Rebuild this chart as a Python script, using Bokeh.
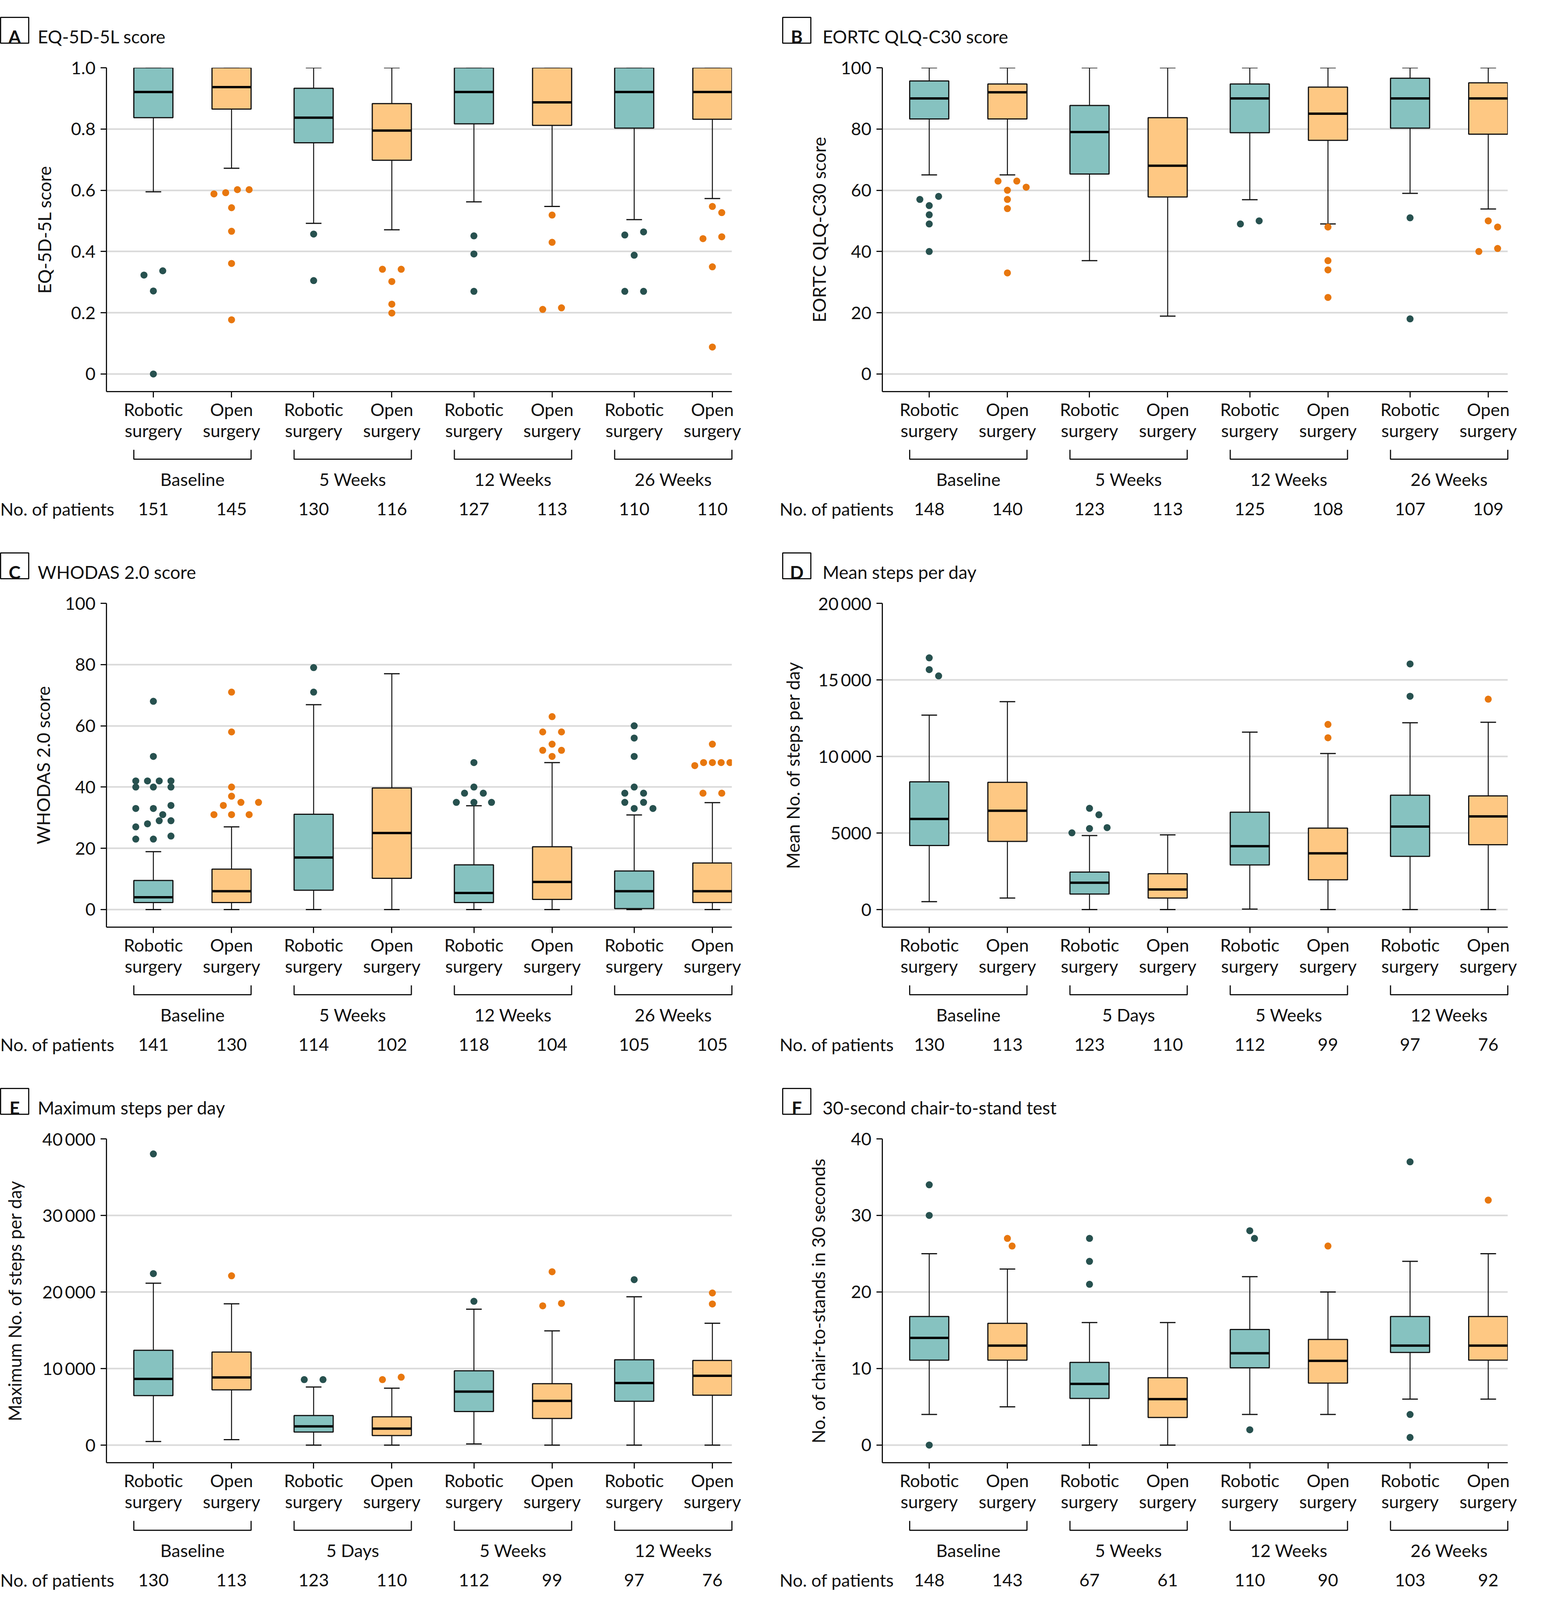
import math
from bokeh.plotting import figure
from bokeh.models import Range1d, FixedTicker
from bokeh.layouts import column, row
from bokeh.embed import file_html
from bokeh.resources import INLINE
from bokeh.core.properties import value

# ---------------- data ----------------
arms = ["Robotic\nsurgery", "Open\nsurgery"]
groups_weeks = ["Baseline", "5 Weeks", "12 Weeks", "26 Weeks"]
groups_days = ["Baseline", "5 Days", "5 Weeks", "12 Weeks"]
patients_label = "No. of patients"

# A: EQ-5D-5L
A_title = "EQ-5D-5L score"
A_ylabel = "EQ-5D-5L score"
A_ticks = [0, 0.2, 0.4, 0.6, 0.8, 1.0]
A_ticklabels = ["0", "0.2", "0.4", "0.6", "0.8", "1.0"]
A_low = [0.595, 0.672, 0.492, 0.471, 0.562, 0.547, 0.504, 0.573]
A_q1 = [0.837, 0.865, 0.755, 0.698, 0.817, 0.812, 0.803, 0.832]
A_med = [0.921, 0.937, 0.837, 0.795, 0.921, 0.887, 0.921, 0.921]
A_q3 = [1.0, 1.0, 0.933, 0.883, 1.0, 1.0, 1.0, 1.0]
A_high = [1.0, 1.0, 1.0, 1.0, 1.0, 1.0, 1.0, 1.0]
A_outliers = [
    [0.337, 0.323, 0.271, 0.0],
    [0.602, 0.602, 0.592, 0.588, 0.543, 0.466, 0.361, 0.177],
    [0.457, 0.305],
    [0.342, 0.342, 0.302, 0.228, 0.199],
    [0.451, 0.392, 0.270],
    [0.519, 0.430, 0.216, 0.211],
    [0.464, 0.454, 0.388, 0.270, 0.270],
    [0.547, 0.527, 0.448, 0.442, 0.350, 0.088],
]
A_n = [151, 145, 130, 116, 127, 113, 110, 110]

# B: EORTC QLQ-C30
B_title = "EORTC QLQ-C30 score"
B_ylabel = "EORTC QLQ-C30 score"
B_ticks = [0, 20, 40, 60, 80, 100]
B_ticklabels = ["0", "20", "40", "60", "80", "100"]
B_low = [65.0, 65.0, 37.0, 18.9, 56.9, 49.0, 59.0, 53.9]
B_q1 = [83.3, 83.3, 65.3, 57.8, 78.8, 76.3, 80.3, 78.3]
B_med = [90.0, 92.0, 79.0, 68.0, 90.0, 85.0, 90.0, 90.0]
B_q3 = [95.7, 94.7, 87.7, 83.7, 94.7, 93.7, 96.6, 95.1]
B_high = [100, 100, 100, 100, 100, 100, 100, 100]
B_outliers = [
    [58, 57, 55, 52, 49, 40],
    [63, 63, 61, 60, 57, 54, 33],
    [],
    [],
    [50, 49],
    [48, 37, 34, 25],
    [51, 18],
    [50, 48, 41, 40],
]
B_n = [148, 140, 123, 113, 125, 108, 107, 109]

# C: WHODAS 2.0
C_title = "WHODAS 2.0 score"
C_ylabel = "WHODAS 2.0 score"
C_ticks = [0, 20, 40, 60, 80, 100]
C_ticklabels = ["0", "20", "40", "60", "80", "100"]
C_low = [0, 0, 0, 0, 0, 0, 0, 0]
C_q1 = [2.3, 2.3, 6.3, 10.2, 2.3, 3.3, 0.3, 2.3]
C_med = [4.0, 6.0, 17.0, 25.0, 5.4, 9.0, 6.0, 6.0]
C_q3 = [9.5, 13.2, 31.1, 39.7, 14.6, 20.5, 12.6, 15.2]
C_high = [18.9, 27.0, 66.9, 77.0, 33.9, 48.0, 30.9, 34.9]
C_outliers = [
    [68, 50, 42, 42, 42, 42, 40, 40, 40, 34, 33, 33, 31, 29, 29, 28, 27, 24, 23, 23],
    [71, 58, 40, 37, 35, 35, 34, 31, 31, 31],
    [79, 71],
    [],
    [48, 40, 38, 38, 35, 35, 35],
    [63, 58, 58, 54, 52, 52, 50],
    [60, 56, 50, 40, 38, 38, 35, 35, 33, 33],
    [54, 48, 48, 48, 48, 47, 38, 38],
]
C_n = [141, 130, 114, 102, 118, 104, 105, 105]

# D: Mean steps per day
D_title = "Mean steps per day"
D_ylabel = "Mean No. of steps per day"
D_ticks = [0, 5000, 10000, 15000, 20000]
D_ticklabels = ["0", "5000", "10\u2009000", "15\u2009000", "20\u2009000"]
D_low = [515, 750, 0, 0, 30, 0, 0, 0]
D_q1 = [4180, 4450, 1015, 750, 2915, 1945, 3475, 4230]
D_med = [5920, 6450, 1750, 1310, 4140, 3670, 5420, 6080]
D_q3 = [8340, 8310, 2445, 2340, 6360, 5320, 7470, 7420]
D_high = [12700, 13580, 4830, 4875, 11590, 10190, 12200, 12230]
D_outliers = [
    [16440, 15670, 15260],
    [],
    [6610, 6190, 5350, 5290, 5010],
    [],
    [],
    [12090, 11220],
    [16040, 13930],
    [13740],
]
D_n = [130, 113, 123, 110, 112, 99, 97, 76]

# E: Maximum steps per day
E_title = "Maximum steps per day"
E_ylabel = "Maximum No. of steps per day"
E_ticks = [0, 10000, 20000, 30000, 40000]
E_ticklabels = ["0", "10\u2009000", "20\u2009000", "30\u2009000", "40\u2009000"]
E_low = [470, 710, 0, 0, 150, 0, 0, 0]
E_q1 = [6460, 7220, 1710, 1240, 4390, 3480, 5720, 6510]
E_med = [8640, 8840, 2450, 2150, 6990, 5780, 8110, 9050]
E_q3 = [12380, 12150, 3860, 3690, 9700, 8020, 11140, 11060]
E_high = [21140, 18450, 7580, 7430, 17750, 14920, 19370, 15920]
E_outliers = [
    [38030, 22400],
    [22110],
    [8550, 8550],
    [8870, 8550],
    [18780],
    [22640, 18510, 18190],
    [21610],
    [19870, 18430],
]
E_n = [130, 113, 123, 110, 112, 99, 97, 76]

# F: 30-second chair-to-stand test
F_title = "30-second chair-to-stand test"
F_ylabel = "No. of chair-to-stands in 30 seconds"
F_ticks = [0, 10, 20, 30, 40]
F_ticklabels = ["0", "10", "20", "30", "40"]
F_low = [4, 5, 0, 0, 4, 4, 6, 6]
F_q1 = [11.1, 11.1, 6.1, 3.6, 10.1, 8.1, 12.1, 11.1]
F_med = [14, 13, 8, 6, 12, 11, 13, 13]
F_q3 = [16.8, 15.9, 10.8, 8.8, 15.1, 13.8, 16.8, 16.8]
F_high = [25, 23, 16, 16, 22, 20, 24, 25]
F_outliers = [
    [34, 30, 0],
    [27, 26],
    [27, 24, 21],
    [],
    [28, 27, 2],
    [26],
    [37, 4, 1],
    [32],
]
F_n = [148, 143, 67, 61, 110, 90, 103, 92]

# ---------------- style / layout ----------------
FONT = "Lato"
TEAL_FILL = "#86c2c0"
ORANGE_FILL = "#fec883"
TEAL_DOT = "#27514f"
ORANGE_DOT = "#e8770e"
GRID = "#d9d9d9"
INK = "#111111"
FS = "45px"

GROUP_STEP = 2.05
BOX_W = 0.5
CAP_W = 0.2
X_MIN, X_MAX = -0.6, 7.4
FRAME_TOP = 173
FRAME_H = 829
FRAME_LEFT = 272
FRAME_RIGHT = 1873
COL_W = [1986, 1955]
ROW_H = [1371, 1371, 1338]
BOX_LEFT = [0, 16]
TITLE_X = [96, 119]
PATIENTS_X = [0, 9]
DOT = 18


def box_positions():
    return [round(g * GROUP_STEP + m, 2) for g in range(4) for m in range(2)]


def swarm(vals, ppv, ppx, thr=12.0, coll=22.0):
    """Spread outliers horizontally (simple row-based beeswarm)."""
    vs = sorted(vals, reverse=True)
    clusters = []
    for v in vs:
        if clusters and (clusters[-1][-1] - v) * ppv < thr:
            clusters[-1].append(v)
        else:
            clusters.append([v])
    placed = []
    for cl in clusters:
        cl = sorted(cl)
        k = len(cl)
        s = min(0.24, 0.45 / (k - 1)) if k > 1 else 0.0
        base = [(j - (k - 1) / 2.0) * s for j in range(k)]
        chosen = [(b, v) for b, v in zip(base, cl)]
        for sh in (0.0, 0.06, -0.06, 0.12, -0.12):
            cand = [(b + sh, v) for b, v in zip(base, cl)]
            if all(math.hypot((cx - qx) * ppx, (cv - qv) * ppv) >= coll
                   for cx, cv in cand for qx, qv in placed):
                chosen = cand
                break
        placed.extend(chosen)
    return [c[0] for c in placed], [c[1] for c in placed]


def make_panel(letter, title, ylabel, ticks, ticklabels, low, q1, med, q3, high,
               outliers, groups, n, col, rowi, label_standoff):
    W = COL_W[col]
    H = ROW_H[rowi]
    xs = box_positions()
    ymax = ticks[-1]
    ymin = -0.0575 * ymax
    ppx = (FRAME_RIGHT - FRAME_LEFT) / (X_MAX - X_MIN)
    ppv = FRAME_H / (ymax - ymin)

    def X(px):  # panel-local pixel column -> data x
        return X_MIN + (px - FRAME_LEFT) / ppx

    def Y(px):  # panel-local pixel row -> data y
        return ymax - (px - FRAME_TOP) / ppv

    p = figure(width=W, height=H,
               x_range=Range1d(X_MIN, X_MAX), y_range=Range1d(ymin, ymax),
               toolbar_location=None, output_backend="svg",
               min_border_left=FRAME_LEFT, min_border_right=W - FRAME_RIGHT,
               min_border_top=FRAME_TOP, min_border_bottom=H - FRAME_TOP - FRAME_H)
    p.outline_line_color = None
    p.background_fill_color = "white"
    p.border_fill_color = "white"
    p.xgrid.visible = False
    yt = FixedTicker(ticks=ticks)
    p.yaxis.ticker = yt
    p.ygrid.ticker = yt
    p.ygrid.grid_line_color = GRID
    p.ygrid.grid_line_width = 4
    p.yaxis.major_label_overrides = dict(zip(ticks, ticklabels))
    p.xaxis.ticker = FixedTicker(ticks=xs)
    p.xaxis.major_label_overrides = {x: arms[i % 2] for i, x in enumerate(xs)}
    for ax in (p.xaxis, p.yaxis):
        ax.axis_line_width = 3
        ax.axis_line_color = INK
        ax.major_tick_line_width = 3
        ax.major_tick_line_color = INK
        ax.major_tick_in = 0
        ax.minor_tick_line_color = None
        ax.major_label_text_font = FONT
        ax.major_label_text_font_size = FS
        ax.major_label_text_color = INK
    p.xaxis.major_tick_out = 15
    p.xaxis.major_label_standoff = 3
    p.xaxis.major_label_text_line_height = 1.0
    p.yaxis.major_tick_out = 15
    p.yaxis.major_label_standoff = 13
    p.yaxis.axis_label = ylabel
    p.yaxis.axis_label_text_font = FONT
    p.yaxis.axis_label_text_font_size = "46px"
    p.yaxis.axis_label_text_font_style = "normal"
    p.yaxis.axis_label_text_color = INK
    p.yaxis.axis_label_standoff = label_standoff

    fills = [TEAL_FILL if i % 2 == 0 else ORANGE_FILL for i in range(len(xs))]
    # whiskers
    p.segment(x0=xs, y0=q3, x1=xs, y1=high, line_color=INK, line_width=2.5)
    p.segment(x0=xs, y0=q1, x1=xs, y1=low, line_color=INK, line_width=2.5)
    cl = [x - CAP_W / 2 for x in xs]
    cr = [x + CAP_W / 2 for x in xs]
    p.segment(x0=cl, y0=high, x1=cr, y1=high, line_color=INK, line_width=3)
    p.segment(x0=cl, y0=low, x1=cr, y1=low, line_color=INK, line_width=3)
    # boxes
    p.vbar(x=xs, width=BOX_W, bottom=q1, top=q3, fill_color=fills,
           line_color=INK, line_width=3)
    bl = [x - BOX_W / 2 for x in xs]
    br = [x + BOX_W / 2 for x in xs]
    p.segment(x0=bl, y0=med, x1=br, y1=med, line_color="black", line_width=6)
    # outliers
    for i, vals in enumerate(outliers):
        if not vals:
            continue
        ox, oy = swarm(vals, ppv, ppx)
        p.scatter(x=[xs[i] + o for o in ox], y=oy, size=DOT,
                  fill_color=TEAL_DOT if i % 2 == 0 else ORANGE_DOT, line_color=None)

    extra = []
    # panel title with boxed letter
    bx0 = BOX_LEFT[col]
    extra.append(p.quad(left=[X(bx0 + 1)], right=[X(bx0 + 73)], top=[Y(44)], bottom=[Y(110)],
                        fill_color=None, line_color=INK, line_width=3))
    extra.append(p.text(x=[X(bx0 + 37)], y=[Y(93)], text=[letter], text_font=value(FONT),
                        text_font_size="46px", text_font_style="bold", text_align="center",
                        text_baseline="alphabetic", text_color=INK))
    extra.append(p.text(x=[X(TITLE_X[col])], y=[Y(93)], text=[title], text_font=value(FONT),
                        text_font_size="46px", text_align="left",
                        text_baseline="alphabetic", text_color=INK))
    # group brackets and labels
    bottom = FRAME_TOP + FRAME_H
    bxs, bys, gx = [], [], []
    yb0 = Y(bottom + 149)
    yb1 = Y(bottom + 173)
    for g in range(4):
        xl = xs[2 * g] - BOX_W / 2
        xr = xs[2 * g + 1] + BOX_W / 2
        bxs.append([xl, xl, xr, xr])
        bys.append([yb0, yb1, yb1, yb0])
        gx.append((xs[2 * g] + xs[2 * g + 1]) / 2)
    extra.append(p.multi_line(xs=bxs, ys=bys, line_color=INK, line_width=3))
    yg = Y(bottom + 224)
    extra.append(p.text(x=gx, y=[yg] * 4, text=groups, text_font=value(FONT),
                        text_font_size=FS, text_align="center", text_baseline="alphabetic",
                        text_color=INK))
    yn = Y(bottom + 300)
    extra.append(p.text(x=xs, y=[yn] * len(xs), text=[str(v) for v in n],
                        text_font=value(FONT), text_font_size=FS, text_align="center",
                        text_baseline="alphabetic", text_color=INK))
    extra.append(p.text(x=[X(PATIENTS_X[col])], y=[yn], text=[patients_label],
                        text_font=value(FONT), text_font_size=FS, text_align="left",
                        text_baseline="alphabetic", text_color=INK))
    for r in extra:
        r.level = "overlay"
    return p


pA = make_panel("A", A_title, A_ylabel, A_ticks, A_ticklabels, A_low, A_q1, A_med, A_q3,
                A_high, A_outliers, groups_weeks, A_n, 0, 0, 38)
pB = make_panel("B", B_title, B_ylabel, B_ticks, B_ticklabels, B_low, B_q1, B_med, B_q3,
                B_high, B_outliers, groups_weeks, B_n, 1, 0, 25)
pC = make_panel("C", C_title, C_ylabel, C_ticks, C_ticklabels, C_low, C_q1, C_med, C_q3,
                C_high, C_outliers, groups_weeks, C_n, 0, 1, 25)
pD = make_panel("D", D_title, D_ylabel, D_ticks, D_ticklabels, D_low, D_q1, D_med, D_q3,
                D_high, D_outliers, groups_days, D_n, 1, 1, 34)
pE = make_panel("E", E_title, E_ylabel, E_ticks, E_ticklabels, E_low, E_q1, E_med, E_q3,
                E_high, E_outliers, groups_days, E_n, 0, 2, 40)
pF = make_panel("F", F_title, F_ylabel, F_ticks, F_ticklabels, F_low, F_q1, F_med, F_q3,
                F_high, F_outliers, groups_weeks, F_n, 1, 2, 53)

layout = column(row(pA, pB), row(pC, pD), row(pE, pF))

with open("out.html", "w") as fh:
    fh.write(file_html(layout, INLINE, title="Box plots"))
